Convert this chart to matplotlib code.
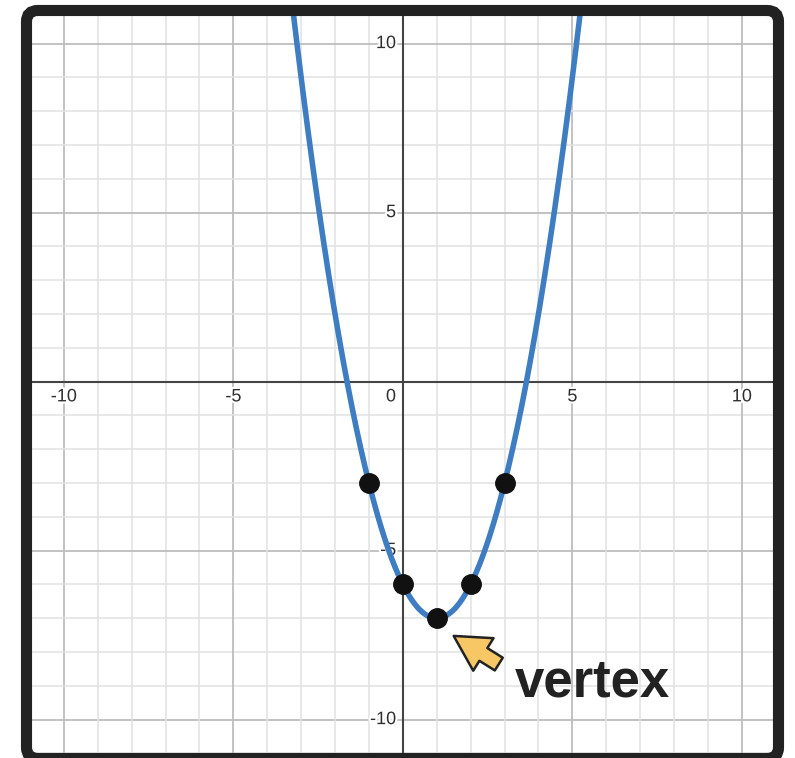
import numpy as np
import matplotlib.pyplot as plt
import matplotlib.patheffects as pe
from matplotlib.patches import FancyBboxPatch, FancyArrowPatch

plt.rcParams['font.family'] = ['Liberation Sans', 'DejaVu Sans']

# points plotted on the parabola
pts_x = [-1, 0, 1, 2, 3]
pts_y = [-3, -6, -7, -6, -3]
vertex = (1, -7)
tick_vals = [-10, -5, 5, 10]

# parabola through the points
coef = np.polyfit(pts_x, pts_y, 2)
xs = np.linspace(-4, 6, 400)
ys = np.polyval(coef, xs)

fig = plt.figure(figsize=(7.95, 7.58), dpi=100)
W, H = 795, 758
ax = fig.add_axes([26.5 / W, 1 - 758.5 / H, (778.5 - 26.5) / W, (758.5 - 10.5) / H])
ax.set_xlim(-11.1, 11.08)
ax.set_ylim(-11.15, 10.98)
for s in ax.spines.values():
    s.set_visible(False)
ax.set_xticks([])
ax.set_yticks([])

# grid: minor every 1, major every 5
for v in range(-11, 12):
    if v == 0:
        continue
    major = v % 5 == 0
    c = '#bdbdbd' if major else '#e2e2e2'
    lw = 1.3 if major else 1.1
    ax.axvline(v, color=c, lw=lw, zorder=0)
    ax.axhline(v, color=c, lw=lw, zorder=0)
ax.axhline(0, color='#444444', lw=1.5, zorder=1)
ax.axvline(0, color='#444444', lw=1.5, zorder=1)

halo = [pe.withStroke(linewidth=3, foreground='white')]
for t in tick_vals:
    ax.text(t, -0.2, str(t), ha='center', va='top', fontsize=13,
            color='#2e2e2e', path_effects=halo, zorder=2)
    ax.text(-0.2, t, str(t), ha='right', va='center', fontsize=13,
            color='#2e2e2e', path_effects=halo, zorder=2)
ax.text(-0.2, -0.2, '0', ha='right', va='top', fontsize=13,
        color='#2e2e2e', path_effects=halo, zorder=2)

ax.plot(xs, ys, color='#3f7dc2', lw=4, zorder=3, solid_capstyle='round')
ax.plot(pts_x, pts_y, 'o', color='#111111', ms=14, zorder=4)

# arrow pointing at the vertex
arrow = FancyArrowPatch((2.9, -8.4), (vertex[0] + 0.43, vertex[1] - 0.48),
                        arrowstyle='simple,head_width=2.3,head_length=2.1,tail_width=0.9',
                        mutation_scale=12, fc='#f7c766', ec='#222222', lw=1.8, zorder=5)
ax.add_patch(arrow)
ax.text(3.3, -9.33, 'vertex', fontsize=38, fontweight='bold', color='#222222',
        ha='left', va='baseline', zorder=5)

# rounded frame
frame = FancyBboxPatch((0, 0), 1, 1, boxstyle='round,pad=0,rounding_size=0.015',
                       transform=ax.transAxes, fill=False, ec='#222222', lw=8,
                       clip_on=False, zorder=6)
ax.add_patch(frame)

fig.savefig('out.png', dpi=100)
